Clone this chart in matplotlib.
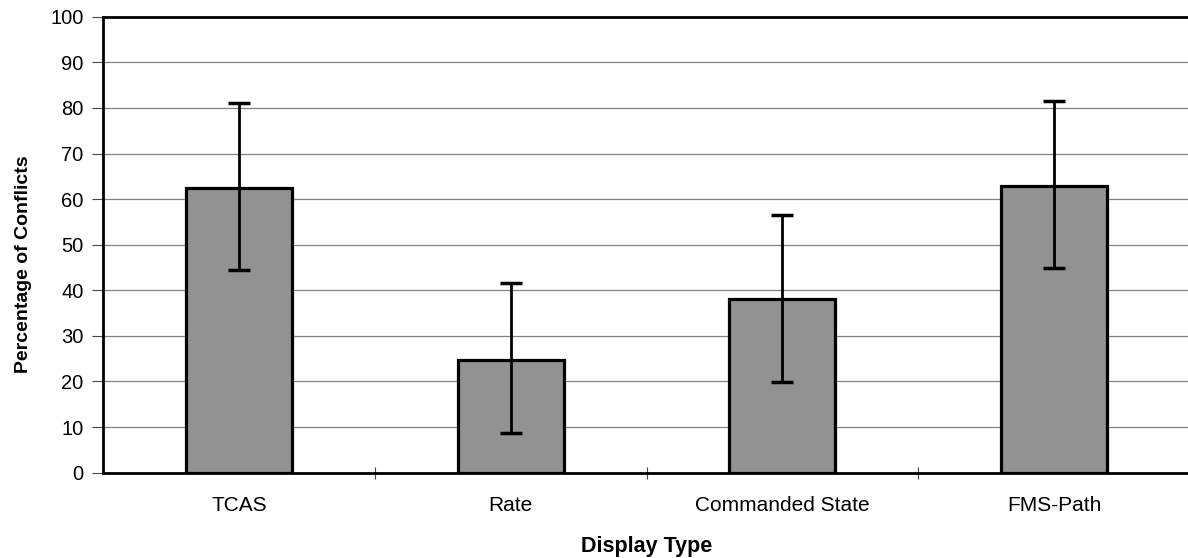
import matplotlib
matplotlib.use("Agg")
import matplotlib.pyplot as plt
import numpy as np

# Datos
categorias = ["TCAS", "Rate", "Commanded State", "FMS-Path"]
porcentajes = [62.4, 24.8, 38.0, 62.9]
error_inferior = [44.4, 8.8, 19.8, 44.9]
error_superior = [81.1, 41.5, 56.5, 81.5]

plt.rcParams['font.family'] = ['Liberation Sans', 'DejaVu Sans']

fig = plt.figure(figsize=(11.88, 5.58), dpi=100)
ax = fig.add_axes([0.0867, 0.153, 0.915, 0.817])

x = np.arange(len(categorias))
err = [np.array(porcentajes) - np.array(error_inferior),
       np.array(error_superior) - np.array(porcentajes)]

ax.bar(x, porcentajes, width=0.39, color='#929292', edgecolor='black',
       linewidth=2.3, zorder=2)
ax.errorbar(x, porcentajes, yerr=err, fmt='none', ecolor='black',
            elinewidth=2.0, capsize=8, capthick=2.5, zorder=3)

ax.set_xlim(-0.5, 3.5)
ax.set_ylim(0, 100)
ax.set_yticks(np.arange(0, 101, 10))
ax.yaxis.grid(True, color='#808080', linewidth=0.9, zorder=0)
ax.set_axisbelow(True)

# Etiquetas de categoría centradas, ticks en los límites
ax.set_xticks(x)
ax.set_xticklabels(categorias, fontsize=15)
ax.set_xticks(np.arange(0.5, 3.5, 1), minor=True)
ax.tick_params(axis='x', which='major', length=0, pad=17)
ax.tick_params(axis='x', which='minor', length=9, direction='inout',
               width=0.8, color='#444444')
ax.tick_params(axis='y', length=8, width=0.8, color='#444444',
               labelsize=14.5, pad=6)

for lado in ['left', 'bottom', 'top', 'right']:
    ax.spines[lado].set_linewidth(2.0)

ax.set_ylabel("Percentage of Conflicts", fontsize=14, fontweight='bold')
ax.yaxis.set_label_coords(-0.065, 0.458)
ax.set_xlabel("Display Type", fontsize=15.5, fontweight='bold', labelpad=15)

fig.savefig("out.png", dpi=100)
